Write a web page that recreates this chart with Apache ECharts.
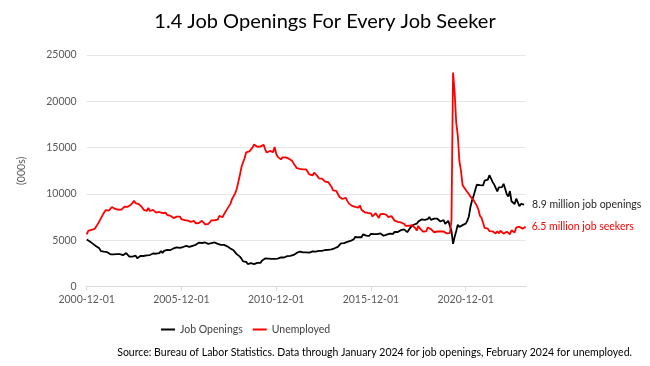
<!DOCTYPE html>
<html>
<head>
<meta charset="utf-8">
<script src="https://cdn.jsdelivr.net/npm/echarts@6/dist/echarts.min.js"></script>
<style>
html,body{margin:0;padding:0;background:#fff;}
#chart{width:650px;height:366px;}
</style>
</head>
<body>
<div id="chart"></div>
<script>
// Monthly categories from 2000-12-01 to 2024-02-01
var startYear = 2000, startMonth = 12, monthCount = 279;
var categories = [];
for (var i = 0; i < monthCount; i++) {
  var m = startMonth - 1 + i;
  var y = startYear + Math.floor(m / 12);
  var mm = (m % 12) + 1;
  categories.push(y + '-' + (mm < 10 ? '0' + mm : mm) + '-01');
}
var labelStep = 60;

// Job openings (000s), Dec 2000 - Jan 2024
var jobOpenings = [
  5088,
  5234,4880,4674,4621,4446,4363,4456,4138,3840,3768,3774,3707,
  3720,3581,3496,3662,3492,3483,3518,3398,3525,3415,3404,3373,
  3624,3451,3244,3374,3247,3240,3355,3067,3170,3320,3189,3312,
  3287,3380,3527,3417,3503,3581,3680,3557,3620,3625,3855,3637,
  3863,3838,3966,3966,3955,4082,4125,4012,4235,4247,4183,4305,
  4282,4342,4396,4344,4287,4306,4413,4496,4523,4618,4746,4602,
  4714,4599,4774,4569,4614,4768,4710,4640,4771,4651,4617,4607,
  4509,4628,4516,4549,4352,4188,4132,4040,3926,3713,3518,3326,
  3244,3026,2733,2606,2677,2448,2441,2536,2357,2437,2504,2578,
  2651,2569,2813,2963,3051,2855,3029,2960,3006,3116,3010,3185,
  3026,3192,3157,3131,3153,3308,3297,3420,3331,3391,3424,3584,
  3645,3638,3795,3711,3701,3844,3707,3625,3681,3726,3809,3718,
  3787,3985,3866,3890,3860,3879,3960,3868,3980,4057,4018,4139,
  4143,4181,4301,4383,4665,4775,4699,4874,4831,4811,4937,5051,
  5104,5363,5204,5333,5391,5336,5646,5458,5512,5458,5494,5711,
  5681,5669,5766,5662,5680,5745,5737,5496,5577,5620,5580,5715,
  5775,5695,5917,5997,5901,6094,6105,6158,6189,6081,5885,5987,
  6383,6449,6683,6717,6807,7023,7071,7262,7354,7207,7393,7301,
  7524,7204,7401,7339,7336,7335,7243,7040,7166,7198,6780,6798,
  7101,7012,6011,4632,5371,6001,6697,6441,6556,6644,6572,6800,
  7099,7576,8600,9300,9800,10400,11000,10900,10950,11091,10922,11448,
  11283,11549,12027,11681,11303,11040,11170,10280,10717,10512,10746,11107,
  10563,9974,9745,10320,9221,9165,8920,9497,9350,8690,8925,9026,
  8863
];

// Unemployed (000s), Dec 2000 - Feb 2024
var unemployed = [
  5634,
  6023,6089,6141,6271,6226,6484,6583,7042,7142,7694,8003,8258,
  8182,8215,8304,8599,8399,8393,8390,8304,8251,8307,8520,8640,
  8520,8618,8588,8842,8957,9266,9011,8896,8921,8732,8576,8317,
  8370,8167,8491,8170,8212,8286,8136,7990,7927,8061,7932,7934,
  7784,7980,7737,7672,7651,7524,7406,7345,7553,7453,7566,7279,
  7064,7184,7072,7120,6980,7001,7175,7091,6847,6727,6872,6762,
  7116,6927,6731,6850,6766,6979,7149,7067,7170,7237,7240,7645,
  7685,7497,7822,7637,8395,8575,8937,9438,9494,10074,10538,11286,
  12058,12898,13426,13853,14499,14707,14601,14814,15009,15352,15219,15098,
  15046,15113,15202,15325,14849,14474,14512,14648,14579,14516,15081,14348,
  14013,13820,13737,13957,13855,13962,13763,13818,13948,13594,13302,13093,
  12797,12813,12713,12646,12660,12692,12656,12471,12115,12124,12005,12298,
  12471,11950,11689,11760,11654,11751,11335,11279,11270,11136,10787,10404,
  10202,10349,10380,9702,9859,9460,9608,9599,9262,8990,9090,8717,
  8903,8610,8504,8526,8771,8296,8248,8033,7919,7957,7907,7907,
  7577,7773,7935,7963,7424,7829,7776,7862,7940,7737,7501,7614,
  7616,7464,7128,7002,6994,7011,6932,7129,6783,6555,6650,6574,
  6484,6632,6528,6344,6049,6566,6284,6213,5951,6134,5981,6393,
  6546,6209,6206,5875,5959,5956,6115,5978,5804,5958,5905,5753,
  5892,5787,7185,23109,20975,17697,16308,13542,12535,10979,10700,10736,
  10213,9995,9718,9756,9324,9466,8751,8358,7663,7433,6897,6337,
  6545,6268,5999,5918,5974,5898,5748,5993,5753,6037,5989,5722,
  5694,5938,5839,5657,6080,5981,5839,6383,6376,6477,6287,6268,
  6124,6458
];

var seriesNames = ['Job Openings', 'Unemployed'];
var endLabels = ['8.9 million job openings', '6.5 million job seekers'];
var titleText = '1.4 Job Openings For Every Job Seeker';
var sourceText = 'Source: Bureau of Labor Statistics. Data through January 2024 for job openings, February 2024 for unemployed.';

var FONT = 'Lato, "Open Sans", sans-serif';
function everyStep(idx) { return idx % labelStep === 0; }
var chart = echarts.init(document.getElementById('chart'), null, {renderer: 'canvas'});
chart.setOption({
  animation: false,
  backgroundColor: '#ffffff',
  textStyle: {fontFamily: FONT},
  title: {
    text: titleText,
    left: 'center',
    top: 7,
    textStyle: {fontFamily: FONT, fontSize: 20, fontWeight: 'normal', color: '#000000'}
  },
  legend: {
    data: seriesNames,
    left: 156,
    top: 319,
    itemWidth: 14,
    itemHeight: 2,
    itemGap: 10,
    icon: 'rect',
    textStyle: {fontFamily: FONT, fontSize: 10.5, color: '#404040'}
  },
  grid: {left: 86.7, right: 124.3, top: 55, bottom: 79.3, containLabel: false},
  xAxis: {
    type: 'category',
    data: categories,
    boundaryGap: false,
    axisLine: {lineStyle: {color: '#d9d9d9', width: 1}},
    axisTick: {show: true, interval: everyStep, length: 4, lineStyle: {color: '#d9d9d9'}},
    axisLabel: {interval: everyStep, hideOverlap: false, color: '#595959', fontSize: 10.5, fontFamily: FONT, margin: 7},
    splitLine: {show: false}
  },
  yAxis: {
    type: 'value',
    min: 0,
    max: 25000,
    interval: 5000,
    name: '(000s)',
    nameLocation: 'middle',
    nameGap: 60,
    nameRotate: 90,
    nameTextStyle: {color: '#595959', fontSize: 10.5, fontFamily: FONT},
    axisLine: {show: false},
    axisTick: {show: false},
    axisLabel: {color: '#595959', fontSize: 10.5, fontFamily: FONT, margin: 10, formatter: function (v) { return String(v); }},
    splitLine: {lineStyle: {color: '#e6e6e6', width: 1}}
  },
  series: [
    {
      name: seriesNames[0],
      type: 'line',
      data: jobOpenings,
      showSymbol: false,
      symbol: 'none',
      lineStyle: {color: '#000000', width: 1.8},
      itemStyle: {color: '#000000'},
      endLabel: {show: true, formatter: endLabels[0], color: '#262626', fontSize: 10.5, fontFamily: FONT, distance: 8}
    },
    {
      name: seriesNames[1],
      type: 'line',
      data: unemployed,
      showSymbol: false,
      symbol: 'none',
      lineStyle: {color: '#ff0000', width: 1.8},
      itemStyle: {color: '#ff0000'},
      endLabel: {show: true, formatter: endLabels[1], color: '#ff0000', fontSize: 10.5, fontFamily: FONT, distance: 6}
    }
  ],
  graphic: [
    {
      type: 'text',
      right: 18,
      top: 347,
      style: {text: sourceText, fill: '#000000', font: '10.5px ' + FONT}
    }
  ]
});
</script>
</body>
</html>
